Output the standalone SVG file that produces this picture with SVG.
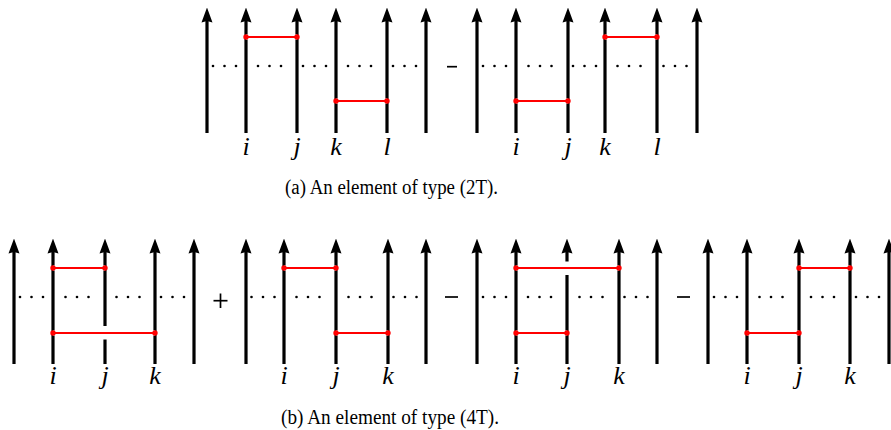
<svg xmlns="http://www.w3.org/2000/svg" width="891" height="430" viewBox="0 0 891 430">
<style>
.s{stroke:#000;stroke-width:3.2;fill:none;marker-end:url(#arr)}
.h{stroke:#fff;stroke-width:5}
.r{stroke:#f00;stroke-width:2}
.rd{fill:#f00}
.d{fill:#000}
.lb{font-family:'Liberation Serif','Times New Roman','DejaVu Serif',serif;font-style:italic;font-size:26px;text-anchor:middle;fill:#000}
.cap{font-family:'Liberation Serif','Times New Roman','DejaVu Serif',serif;font-size:20px;text-anchor:middle;fill:#000}
.op{stroke:#000;stroke-width:1.7}
.gap{fill:#fff}
</style>
<defs>
<marker id="arr" markerUnits="userSpaceOnUse" viewBox="0 0 15 12" refX="1.5" refY="6" markerWidth="15" markerHeight="12" orient="auto">
<path d="M0,0.5 L15,6 L0,11.5 L1.5,6 Z" fill="#000"/>
</marker>
<g id="dots"><circle cx="-11.5" cy="0" r="1.3"/><circle cx="0" cy="0" r="1.3"/><circle cx="11.5" cy="0" r="1.3"/></g>
</defs>
<rect width="891" height="430" fill="#fff"/>

<g id="term-a1">
<line class="s" x1="207" y1="133" x2="207" y2="21"/>
<line class="s" x1="246" y1="133" x2="246" y2="21"/>
<line class="s" x1="297" y1="133" x2="297" y2="21"/>
<line class="s" x1="336" y1="133" x2="336" y2="21"/>
<line class="s" x1="387" y1="133" x2="387" y2="21"/>
<line class="s" x1="426" y1="133" x2="426" y2="21"/>
<g class="d">
<use href="#dots" x="224.5" y="66"/><use href="#dots" x="269.5" y="66"/><use href="#dots" x="314.5" y="66"/><use href="#dots" x="359.5" y="66"/><use href="#dots" x="404.5" y="66"/>
</g>
<text class="lb" x="246" y="155">i</text>
<text class="lb" x="297" y="155">j</text>
<text class="lb" x="336" y="155">k</text>
<text class="lb" x="387" y="155">l</text>
</g>

<g id="op-a1"><line class="op" x1="447" y1="66.7" x2="457" y2="66.7"/></g>

<g id="term-a2">
<line class="s" x1="477" y1="133" x2="477" y2="21"/>
<line class="s" x1="516" y1="133" x2="516" y2="21"/>
<line class="s" x1="568" y1="133" x2="568" y2="21"/>
<line class="s" x1="605" y1="133" x2="605" y2="21"/>
<line class="s" x1="657" y1="133" x2="657" y2="21"/>
<line class="s" x1="697" y1="133" x2="697" y2="21"/>
<g class="d">
<use href="#dots" x="494.5" y="66"/><use href="#dots" x="540" y="66"/><use href="#dots" x="584.5" y="66"/><use href="#dots" x="629" y="66"/><use href="#dots" x="675" y="66"/>
</g>
<text class="lb" x="516" y="155">i</text>
<text class="lb" x="568" y="155">j</text>
<text class="lb" x="605" y="155">k</text>
<text class="lb" x="657" y="155">l</text>
</g>

<text class="cap" x="391.5" y="194.3" textLength="213" lengthAdjust="spacingAndGlyphs">(a) An element of type (2T).</text>

<g id="term-b1">
<line class="s" x1="14" y1="364" x2="14" y2="252"/>
<line class="s" x1="53" y1="364" x2="53" y2="252"/>
<line class="s" x1="105" y1="364" x2="105" y2="252"/>
<line class="s" x1="155" y1="364" x2="155" y2="252"/>
<line class="s" x1="194" y1="364" x2="194" y2="252"/>
<g class="d">
<use href="#dots" x="31.5" y="297"/><use href="#dots" x="77" y="297"/><use href="#dots" x="128" y="297"/><use href="#dots" x="172.5" y="297"/>
</g>
<text class="lb" x="53" y="384">i</text>
<text class="lb" x="105" y="384">j</text>
<text class="lb" x="155" y="384">k</text>
</g>

<g id="op-b1"><line class="op" x1="213.5" y1="300.7" x2="227.5" y2="300.7"/><line class="op" x1="220.5" y1="293.5" x2="220.5" y2="308"/></g>

<g id="term-b2">
<line class="s" x1="246" y1="364" x2="246" y2="252"/>
<line class="s" x1="284" y1="364" x2="284" y2="252"/>
<line class="s" x1="336" y1="364" x2="336" y2="252"/>
<line class="s" x1="388" y1="364" x2="388" y2="252"/>
<line class="s" x1="426" y1="364" x2="426" y2="252"/>
<g class="d">
<use href="#dots" x="263" y="297"/><use href="#dots" x="308" y="297"/><use href="#dots" x="360" y="297"/><use href="#dots" x="405" y="297"/>
</g>
<text class="lb" x="284" y="384">i</text>
<text class="lb" x="336" y="384">j</text>
<text class="lb" x="388" y="384">k</text>
</g>

<g id="op-b2"><line class="op" x1="445" y1="297" x2="458" y2="297"/></g>

<g id="term-b3">
<line class="s" x1="477" y1="364" x2="477" y2="252"/>
<line class="s" x1="516" y1="364" x2="516" y2="252"/>
<line class="s" x1="567" y1="364" x2="567" y2="252"/>
<line class="s" x1="619" y1="364" x2="619" y2="252"/>
<line class="s" x1="657" y1="364" x2="657" y2="252"/>
<g class="d">
<use href="#dots" x="494.5" y="297"/><use href="#dots" x="539.5" y="297"/><use href="#dots" x="591" y="297"/><use href="#dots" x="636" y="297"/>
</g>
<text class="lb" x="516" y="384">i</text>
<text class="lb" x="567" y="384">j</text>
<text class="lb" x="619" y="384">k</text>
</g>

<g id="op-b3"><line class="op" x1="677" y1="297" x2="690" y2="297"/></g>

<g id="term-b4">
<line class="s" x1="708" y1="364" x2="708" y2="252"/>
<line class="s" x1="747" y1="364" x2="747" y2="252"/>
<line class="s" x1="799" y1="364" x2="799" y2="252"/>
<line class="s" x1="850" y1="364" x2="850" y2="252"/>
<line class="s" x1="889" y1="364" x2="889" y2="252"/>
<g class="d">
<use href="#dots" x="725.5" y="297"/><use href="#dots" x="771" y="297"/><use href="#dots" x="822.5" y="297"/><use href="#dots" x="867.5" y="297"/>
</g>
<text class="lb" x="747" y="384">i</text>
<text class="lb" x="799" y="384">j</text>
<text class="lb" x="850" y="384">k</text>
</g>

<text class="cap" x="390" y="424.3" textLength="218" lengthAdjust="spacingAndGlyphs">(b) An element of type (4T).</text>

<g id="connectors">
<g class="h">
<line x1="246" y1="37" x2="297" y2="37"/><line x1="336" y1="101" x2="387" y2="101"/>
<line x1="516" y1="101" x2="568" y2="101"/><line x1="605" y1="37" x2="657" y2="37"/>
<line x1="53" y1="268" x2="105" y2="268"/><line x1="53" y1="333" x2="155" y2="333"/>
<line x1="284" y1="268" x2="336" y2="268"/><line x1="336" y1="333" x2="388" y2="333"/>
<line x1="516" y1="268" x2="619" y2="268"/><line x1="516" y1="333" x2="567" y2="333"/>
<line x1="799" y1="268" x2="850" y2="268"/><line x1="747" y1="333" x2="799" y2="333"/>
</g>
<rect class="gap" x="102" y="326" width="6" height="13.5"/>
<rect class="gap" x="564" y="261.5" width="6" height="13.5"/>
<g class="r">
<line x1="246" y1="37" x2="297" y2="37"/><line x1="336" y1="101" x2="387" y2="101"/>
<line x1="516" y1="101" x2="568" y2="101"/><line x1="605" y1="37" x2="657" y2="37"/>
<line x1="53" y1="268" x2="105" y2="268"/><line x1="53" y1="333" x2="155" y2="333"/>
<line x1="284" y1="268" x2="336" y2="268"/><line x1="336" y1="333" x2="388" y2="333"/>
<line x1="516" y1="268" x2="619" y2="268"/><line x1="516" y1="333" x2="567" y2="333"/>
<line x1="799" y1="268" x2="850" y2="268"/><line x1="747" y1="333" x2="799" y2="333"/>
</g>
<g class="rd">
<circle cx="246" cy="37" r="2.7"/><circle cx="297" cy="37" r="2.7"/><circle cx="336" cy="101" r="2.7"/><circle cx="387" cy="101" r="2.7"/>
<circle cx="516" cy="101" r="2.7"/><circle cx="568" cy="101" r="2.7"/><circle cx="605" cy="37" r="2.7"/><circle cx="657" cy="37" r="2.7"/>
<circle cx="53" cy="268" r="2.7"/><circle cx="105" cy="268" r="2.7"/><circle cx="53" cy="333" r="2.7"/><circle cx="155" cy="333" r="2.7"/>
<circle cx="284" cy="268" r="2.7"/><circle cx="336" cy="268" r="2.7"/><circle cx="336" cy="333" r="2.7"/><circle cx="388" cy="333" r="2.7"/>
<circle cx="516" cy="268" r="2.7"/><circle cx="619" cy="268" r="2.7"/><circle cx="516" cy="333" r="2.7"/><circle cx="567" cy="333" r="2.7"/>
<circle cx="799" cy="268" r="2.7"/><circle cx="850" cy="268" r="2.7"/><circle cx="747" cy="333" r="2.7"/><circle cx="799" cy="333" r="2.7"/>
</g>
</g>
</svg>
